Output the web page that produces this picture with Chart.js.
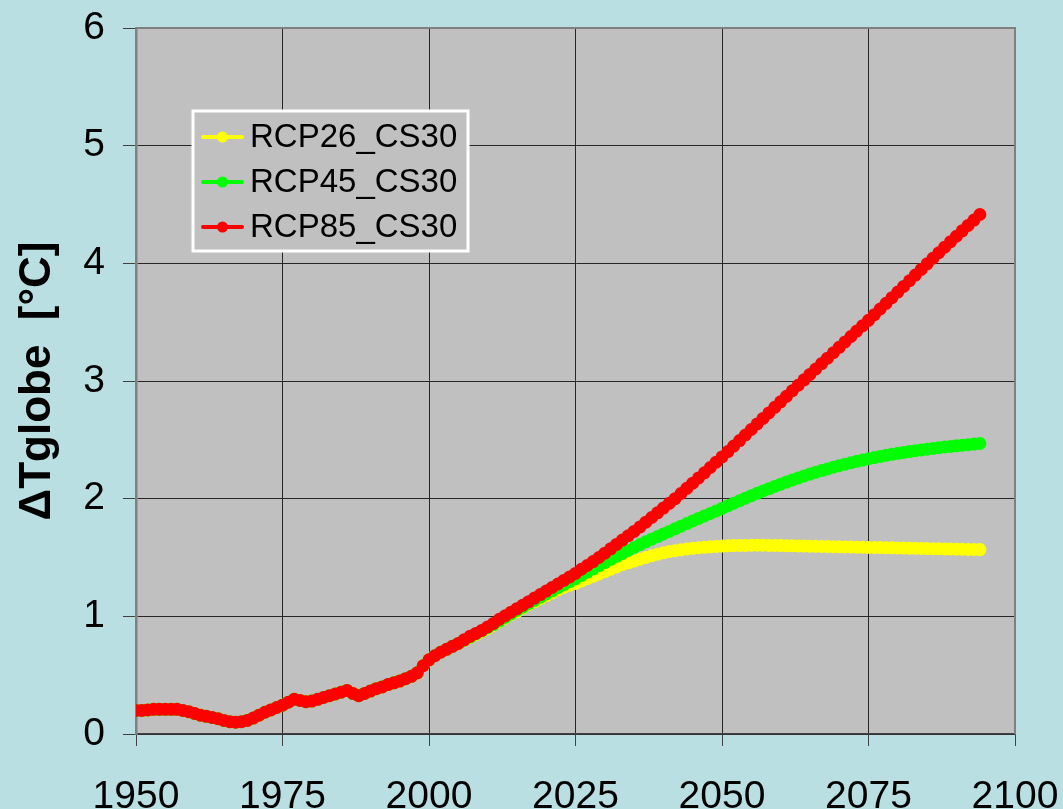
<!DOCTYPE html>
<html>
<head>
<meta charset="utf-8">
<script src="https://cdn.jsdelivr.net/npm/chart.js@4.4.1/dist/chart.umd.min.js"></script>
<style>
  html, body { margin: 0; padding: 0; background: #BADFE3; }
  #wrap { width: 1063px; height: 809px; }
</style>
</head>
<body>
<div id="wrap"><canvas id="c" width="1063" height="809"></canvas></div>
<script>
// Global mean temperature change, yearly values 1950-2094
const startYear = 1950;

const rcp26 = [
  0.20, 0.20, 0.205, 0.21, 0.21, 0.21, 0.21, 0.21, 0.20, 0.19,
  0.175, 0.16, 0.15, 0.14, 0.13, 0.115, 0.105, 0.10, 0.105, 0.115,
  0.135, 0.16, 0.185, 0.205, 0.225, 0.245, 0.27, 0.295, 0.285, 0.275,
  0.28, 0.295, 0.31, 0.325, 0.34, 0.355, 0.37, 0.345, 0.325, 0.345,
  0.365, 0.385, 0.40, 0.42, 0.435, 0.45, 0.47, 0.49, 0.52, 0.58,
  0.63, 0.665, 0.695, 0.72, 0.745, 0.77, 0.795, 0.82, 0.845, 0.87,
  0.895, 0.925, 0.955, 0.985, 1.015, 1.04, 1.07, 1.10, 1.125, 1.15,
  1.175, 1.20, 1.225, 1.245, 1.265, 1.28, 1.30, 1.32, 1.34, 1.36,
  1.38, 1.40, 1.42, 1.44, 1.455, 1.47, 1.485, 1.50, 1.515, 1.528,
  1.54, 1.55, 1.558, 1.565, 1.572, 1.578, 1.583, 1.587, 1.591, 1.594,
  1.597, 1.599, 1.601, 1.602, 1.603, 1.604, 1.604, 1.604, 1.603, 1.602,
  1.601, 1.60, 1.599, 1.598, 1.597, 1.596, 1.595, 1.594, 1.593, 1.592,
  1.591, 1.59, 1.589, 1.588, 1.587, 1.586, 1.585, 1.584, 1.583, 1.582,
  1.581, 1.58, 1.579, 1.578, 1.577, 1.576, 1.575, 1.574, 1.573, 1.572,
  1.571, 1.57, 1.569, 1.568, 1.567
];

const rcp45 = [
  0.20, 0.20, 0.205, 0.21, 0.21, 0.21, 0.21, 0.21, 0.20, 0.19,
  0.175, 0.16, 0.15, 0.14, 0.13, 0.115, 0.105, 0.10, 0.105, 0.115,
  0.135, 0.16, 0.185, 0.205, 0.225, 0.245, 0.27, 0.295, 0.285, 0.275,
  0.28, 0.295, 0.31, 0.325, 0.34, 0.355, 0.37, 0.345, 0.325, 0.345,
  0.365, 0.385, 0.40, 0.42, 0.435, 0.45, 0.47, 0.49, 0.52, 0.58,
  0.63, 0.665, 0.695, 0.72, 0.745, 0.77, 0.797, 0.824, 0.85, 0.875,
  0.903, 0.93, 0.96, 0.99, 1.02, 1.05, 1.078, 1.107, 1.135, 1.163,
  1.19, 1.217, 1.244, 1.27, 1.295, 1.32, 1.348, 1.376, 1.403, 1.43,
  1.457, 1.483, 1.509, 1.535, 1.56, 1.585, 1.61, 1.633, 1.656, 1.678,
  1.70, 1.722, 1.744, 1.766, 1.788, 1.81, 1.832, 1.853, 1.874, 1.895,
  1.917, 1.939, 1.961, 1.983, 2.004, 2.025, 2.045, 2.065, 2.085, 2.104,
  2.123, 2.141, 2.159, 2.176, 2.193, 2.209, 2.224, 2.239, 2.253, 2.267,
  2.28, 2.293, 2.305, 2.317, 2.328, 2.339, 2.349, 2.359, 2.368, 2.377,
  2.385, 2.393, 2.40, 2.407, 2.414, 2.421, 2.427, 2.433, 2.439, 2.444,
  2.449, 2.454, 2.459, 2.464, 2.469
];

const rcp85 = [
  0.20, 0.20, 0.205, 0.21, 0.21, 0.21, 0.21, 0.21, 0.20, 0.19,
  0.175, 0.16, 0.15, 0.14, 0.13, 0.115, 0.105, 0.10, 0.105, 0.115,
  0.135, 0.16, 0.185, 0.205, 0.225, 0.245, 0.27, 0.295, 0.285, 0.275,
  0.28, 0.295, 0.31, 0.325, 0.34, 0.355, 0.37, 0.345, 0.325, 0.345,
  0.365, 0.385, 0.40, 0.42, 0.435, 0.45, 0.47, 0.49, 0.52, 0.58,
  0.63, 0.665, 0.695, 0.72, 0.745, 0.77, 0.80, 0.83, 0.855, 0.88,
  0.91, 0.94, 0.975, 1.005, 1.035, 1.065, 1.095, 1.125, 1.155, 1.185,
  1.215, 1.245, 1.275, 1.305, 1.335, 1.365, 1.40, 1.432, 1.465, 1.50,
  1.537, 1.574, 1.611, 1.648, 1.685, 1.722, 1.76, 1.80, 1.84, 1.88,
  1.92, 1.96, 2.00, 2.044, 2.088, 2.132, 2.176, 2.22, 2.265, 2.31,
  2.355, 2.40, 2.447, 2.494, 2.541, 2.588, 2.635, 2.682, 2.729, 2.776,
  2.823, 2.87, 2.917, 2.964, 3.01, 3.056, 3.102, 3.148, 3.194, 3.24,
  3.286, 3.332, 3.378, 3.424, 3.47, 3.516, 3.564, 3.612, 3.66, 3.708,
  3.756, 3.804, 3.852, 3.90, 3.948, 3.996, 4.043, 4.09, 4.137, 4.184,
  4.23, 4.276, 4.322, 4.368, 4.415
];

const seriesNames = ['RCP26_CS30', 'RCP45_CS30', 'RCP85_CS30'];
const seriesColors = ['#FFFF00', '#00FF00', '#FF0000'];
const xTicks = [1950, 1975, 2000, 2025, 2050, 2075, 2100];
const yTicks = [0, 1, 2, 3, 4, 5, 6];
const yTitle = 'ΔTglobe  [°C]';

const toPoints = arr => arr.map((v, i) => ({ x: startYear + i, y: v }));

const FONT = '"Liberation Sans", Arial, sans-serif';

// Page background and grey plotting area
const backdrop = {
  id: 'backdrop',
  beforeDraw(chart) {
    const { ctx, chartArea: a } = chart;
    ctx.save();
    ctx.fillStyle = '#BADFE3';
    ctx.fillRect(0, 0, chart.width, chart.height);
    ctx.fillStyle = '#C0C0C0';
    ctx.fillRect(a.left, a.top, a.right - a.left, a.bottom - a.top);
    ctx.restore();
  },
  afterDatasetsDraw(chart) {
    const { ctx, chartArea: a } = chart;
    ctx.save();
    ctx.strokeStyle = '#808080';
    ctx.lineWidth = 2;
    ctx.beginPath();
    ctx.moveTo(a.left, a.top);
    ctx.lineTo(a.right, a.top);
    ctx.lineTo(a.right, a.bottom);
    ctx.stroke();
    ctx.restore();
  }
};

// Boxed legend inside the plotting area
const boxLegend = {
  id: 'boxLegend',
  afterDraw(chart) {
    const { ctx } = chart;
    const bx = 193, by = 111, bw = 275, bh = 140;
    ctx.save();
    ctx.fillStyle = '#C0C0C0';
    ctx.fillRect(bx, by, bw, bh);
    ctx.strokeStyle = '#FFFFFF';
    ctx.lineWidth = 3;
    ctx.strokeRect(bx, by, bw, bh);
    ctx.font = '33px ' + FONT;
    ctx.textBaseline = 'middle';
    ctx.textAlign = 'left';
    seriesNames.forEach((name, i) => {
      const y = 137 + i * 45;
      ctx.strokeStyle = seriesColors[i];
      ctx.lineWidth = 4;
      ctx.lineCap = 'round';
      ctx.beginPath();
      ctx.moveTo(203, y);
      ctx.lineTo(242, y);
      ctx.stroke();
      ctx.fillStyle = seriesColors[i];
      ctx.beginPath();
      ctx.arc(222.5, y, 5.5, 0, Math.PI * 2);
      ctx.fill();
      ctx.fillStyle = '#000000';
      ctx.fillText(name, 250, y + 1);
    });
    ctx.restore();
  }
};

const seriesData = [rcp26, rcp45, rcp85];
const datasets = seriesData.map((arr, i) => ({
  label: seriesNames[i],
  data: toPoints(arr),
  borderColor: seriesColors[i],
  backgroundColor: seriesColors[i],
  borderWidth: 6,
  pointRadius: 6.5,
  pointHoverRadius: 6.5,
  pointBorderWidth: 0,
  pointBackgroundColor: seriesColors[i],
  tension: 0,
  order: 2 - i
}));

new Chart(document.getElementById('c'), {
  type: 'line',
  data: { datasets },
  plugins: [backdrop, boxLegend],
  options: {
    responsive: false,
    animation: false,
    events: [],
    layout: { padding: { top: 28, right: 48, left: 0, bottom: 0 } },
    plugins: {
      legend: { display: false },
      tooltip: { enabled: false }
    },
    scales: {
      x: {
        type: 'linear',
        min: xTicks[0],
        max: xTicks[xTicks.length - 1],
        afterBuildTicks(scale) { scale.ticks = xTicks.map(v => ({ value: v })); },
        afterFit(scale) {
          scale.height = 75;
          scale.paddingLeft = 0;
          scale.paddingRight = 0;
        },
        ticks: {
          color: '#000000',
          font: { family: FONT, size: 39 },
          padding: 28,
          maxRotation: 0,
          autoSkip: false,
          callback: v => String(v)
        },
        grid: {
          color: '#262626',
          lineWidth: 1,
          tickLength: 12,
          tickColor: '#404040',
          drawTicks: true
        },
        border: { display: true, color: '#404040', width: 1.5 }
      },
      y: {
        type: 'linear',
        min: yTicks[0],
        max: yTicks[yTicks.length - 1],
        afterBuildTicks(scale) { scale.ticks = yTicks.map(v => ({ value: v })); },
        afterFit(scale) {
          scale.width = 136;
          scale.paddingTop = 0;
          scale.paddingBottom = 0;
        },
        ticks: {
          color: '#000000',
          font: { family: FONT, size: 39 },
          padding: 18,
          callback: v => String(v)
        },
        grid: {
          color: '#262626',
          lineWidth: 1,
          tickLength: 13,
          tickColor: '#404040',
          drawTicks: true
        },
        border: { display: true, color: '#808080', width: 2.5 },
        title: {
          display: true,
          text: yTitle,
          color: '#000000',
          font: { family: FONT, size: 44, weight: 'bold' },
          padding: { top: 11, bottom: 0 }
        }
      }
    }
  }
});
</script>
</body>
</html>
